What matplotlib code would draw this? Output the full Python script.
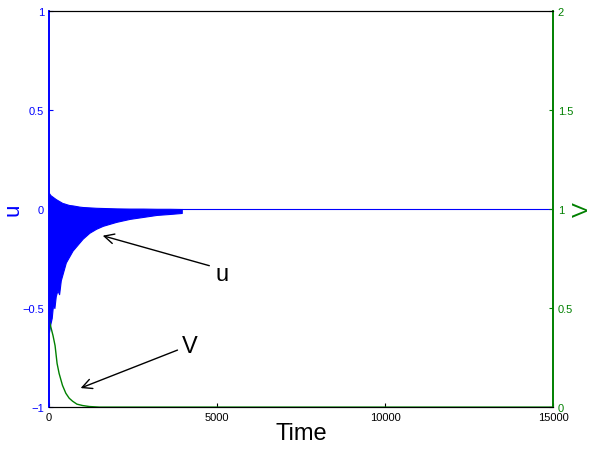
import matplotlib
matplotlib.use("Agg")
import matplotlib.pyplot as plt

plt.rcParams["font.family"] = ["Liberation Sans", "DejaVu Sans"]

# u envelope (oscillating part)
u_t = [0, 40, 80, 120, 160, 200, 250, 300, 350, 400, 450, 500, 600, 700, 800,
       900, 1000, 1200, 1400, 1600, 1800, 2000, 2400, 2800, 3200, 3600, 3950]
u_upper = [0.08, 0.07, 0.065, 0.06, 0.055, 0.05, 0.045, 0.04, 0.035, 0.03, 0.028,
           0.025, 0.02, 0.018, 0.015, 0.012, 0.01, 0.008, 0.006, 0.005, 0.004,
           0.003, 0.002, 0.002, 0.001, 0.001, 0.0]
u_lower = [-0.62, -0.58, -0.55, -0.48, -0.50, -0.44, -0.41, -0.43, -0.36, -0.33,
           -0.30, -0.27, -0.24, -0.21, -0.19, -0.17, -0.15, -0.12, -0.10, -0.085,
           -0.075, -0.065, -0.05, -0.04, -0.03, -0.025, -0.02]
# u after the oscillation settles
u_flat_t = [3950, 15000]
u_flat = [0.0, 0.0]

# V (right axis)
v_t = [0, 60, 120, 180, 240, 300, 400, 500, 600, 700, 830, 1000, 1200, 1500, 3000, 15000]
v_vals = [0.44, 0.40, 0.36, 0.31, 0.22, 0.17, 0.11, 0.07, 0.045, 0.03, 0.015, 0.008,
          0.003, 0.0, 0.0, 0.0]

blue = "#0000ff"
green = "#008000"

fig = plt.figure(figsize=(5.95, 4.56), dpi=100)
ax = fig.add_axes([0.0824, 0.105, 0.8471, 0.869])
ax2 = ax.twinx()

ax.fill_between(u_t, u_lower, u_upper, color=blue, linewidth=0.8, edgecolor=blue)
ax.plot(u_flat_t, u_flat, color=blue, linewidth=0.8)
ax2.plot(v_t, v_vals, color=green, linewidth=1.0)

ax.set_xlim(0, 15000)
ax.set_ylim(-1, 1)
ax2.set_ylim(0, 2)
ax.set_xticks([0, 5000, 10000, 15000])
ax.set_yticks([-1, -0.5, 0, 0.5, 1])
ax.set_yticklabels(["\u22121", "\u22120.5", "0", "0.5", "1"])
ax2.set_yticks([0, 0.5, 1, 1.5, 2])
ax2.set_yticklabels(["0", "0.5", "1", "1.5", "2"])

ax.tick_params(axis="both", direction="in", length=3, labelsize=8, top=False)
ax.tick_params(axis="y", colors=blue, labelcolor=blue)
ax2.tick_params(axis="y", direction="in", length=3, labelsize=8, colors=green)

for a in (ax, ax2):
    a.spines["left"].set_color(blue)
    a.spines["right"].set_color(green)
    a.spines["left"].set_linewidth(1.2)
    a.spines["right"].set_linewidth(1.2)

ax.set_xlabel("Time", fontsize=17, labelpad=0)
ax.set_ylabel("u", fontsize=16, color=blue, labelpad=-1)
ax2.set_ylabel("V", fontsize=16, color=green, labelpad=-1)

# annotations
arrow = dict(arrowstyle="->,head_length=0.7,head_width=0.35", color="black", lw=1.0)
ax.annotate("", xy=(1518, -0.131), xytext=(4850, -0.29), arrowprops=arrow)
ax.text(5150, -0.33, "u", fontsize=17, ha="center", va="center")
ax.annotate("", xy=(863, -0.909), xytext=(3900, -0.707), arrowprops=arrow)
ax.text(4200, -0.69, "V", fontsize=17, ha="center", va="center")

fig.savefig("out.png", dpi=100)
